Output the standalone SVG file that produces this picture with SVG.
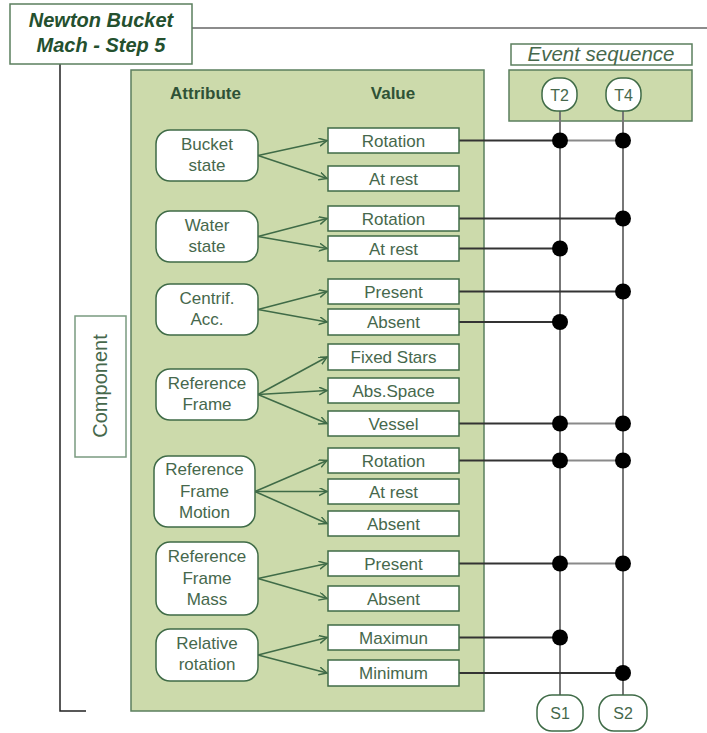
<svg xmlns="http://www.w3.org/2000/svg" width="707" height="733" viewBox="0 0 707 733">
<defs>
<style>
.txt{font-family:"Liberation Sans",Arial,sans-serif;fill:#46684c;text-anchor:middle}
.node{font-size:17px}
.hdr{font-size:17px;font-weight:bold;fill:#2f5236}
.title{font-size:20px;font-weight:bold;font-style:italic;fill:#24502e}
.small{font-size:16px}
.attr{fill:#fff;stroke:#3f6b47;stroke-width:1.5}
.val{fill:#fff;stroke:#3f6b47;stroke-width:1.5}
.arrow{stroke:#3f6b47;stroke-width:1.5;fill:none;marker-end:url(#ah)}
.h1{stroke:#333;stroke-width:2}
.h2{stroke:#8a8a8a;stroke-width:2}
.vert{stroke:#777;stroke-width:2}
.dot{fill:#000}
</style>
<marker id="ah" markerWidth="10" markerHeight="10" refX="8" refY="4" orient="auto" markerUnits="userSpaceOnUse">
<path d="M0,0 L8,4 L0,8" fill="none" stroke="#3f6b47" stroke-width="1.5"/>
</marker>
</defs>
<rect width="707" height="733" fill="#fff"/>

<g id="frame">
<line x1="192" y1="28" x2="707" y2="28" stroke="#666" stroke-width="1.5"/>
<polyline points="60,64 60,711 86,711" fill="none" stroke="#222" stroke-width="1.5"/>
</g>

<g id="title">
<rect x="10" y="4" width="182" height="60" fill="#fff" stroke="#5b7f5e" stroke-width="1.5"/>
<text class="txt title" x="101" y="27">Newton Bucket</text>
<text class="txt title" x="101" y="52">Mach - Step 5</text>
</g>

<g id="panel">
<rect x="131" y="70" width="353" height="641" fill="#ccdaab" stroke="#5b7f5e" stroke-width="1.5"/>
<text class="txt hdr" x="205.5" y="99">Attribute</text>
<text class="txt hdr" x="393" y="99">Value</text>
</g>

<g id="component">
<rect x="75" y="316" width="51" height="141" fill="#fff" stroke="#7a9a80" stroke-width="1.5"/>
<text class="txt" style="font-size:20px" transform="translate(107,386) rotate(-90)" x="0" y="0">Component</text>
</g>

<g id="event-sequence">
<rect x="511" y="44" width="181" height="21" fill="#fff" stroke="#5b7f5e" stroke-width="1.5"/>
<text class="txt" style="font-size:20.5px;font-style:italic" x="601" y="61">Event sequence</text>
<rect x="509" y="70" width="183" height="51" fill="#ccdaab" stroke="#5b7f5e" stroke-width="1.5"/>
</g>

<g id="connectors">
<line class="arrow" x1="258" y1="155.5" x2="327" y2="140.5"/>
<line class="arrow" x1="258" y1="155.5" x2="327" y2="178.5"/>
<line class="arrow" x1="258" y1="236.5" x2="327" y2="218.5"/>
<line class="arrow" x1="258" y1="236.5" x2="327" y2="248.5"/>
<line class="arrow" x1="258" y1="309.5" x2="327" y2="291.5"/>
<line class="arrow" x1="258" y1="309.5" x2="327" y2="322"/>
<line class="arrow" x1="258" y1="394.5" x2="327" y2="357"/>
<line class="arrow" x1="258" y1="394.5" x2="327" y2="390.5"/>
<line class="arrow" x1="258" y1="394.5" x2="327" y2="423.5"/>
<line class="arrow" x1="255" y1="491.5" x2="327" y2="460.5"/>
<line class="arrow" x1="255" y1="491.5" x2="327" y2="491.5"/>
<line class="arrow" x1="255" y1="491.5" x2="327" y2="523.5"/>
<line class="arrow" x1="258" y1="578.5" x2="327" y2="563.5"/>
<line class="arrow" x1="258" y1="578.5" x2="327" y2="598.5"/>
<line class="arrow" x1="258" y1="655" x2="327" y2="637.5"/>
<line class="arrow" x1="258" y1="655" x2="327" y2="673"/>

<line class="vert" x1="560" y1="111" x2="560" y2="695"/>
<line class="vert" x1="623" y1="111" x2="623" y2="695"/>

<line class="h1" x1="459" y1="140.5" x2="560" y2="140.5"/><line class="h2" x1="560" y1="140.5" x2="623" y2="140.5"/>
<line class="h1" x1="459" y1="218.5" x2="623" y2="218.5"/>
<line class="h1" x1="459" y1="248.5" x2="560" y2="248.5"/>
<line class="h1" x1="459" y1="291.5" x2="623" y2="291.5"/>
<line class="h1" x1="459" y1="322" x2="560" y2="322"/>
<line class="h1" x1="459" y1="423.5" x2="560" y2="423.5"/><line class="h2" x1="560" y1="423.5" x2="623" y2="423.5"/>
<line class="h1" x1="459" y1="460.5" x2="560" y2="460.5"/><line class="h2" x1="560" y1="460.5" x2="623" y2="460.5"/>
<line class="h1" x1="459" y1="563.5" x2="560" y2="563.5"/><line class="h2" x1="560" y1="563.5" x2="623" y2="563.5"/>
<line class="h1" x1="459" y1="637.5" x2="560" y2="637.5"/>
<line class="h1" x1="459" y1="673" x2="623" y2="673"/>

<circle class="dot" cx="560" cy="140.5" r="8"/><circle class="dot" cx="623" cy="140.5" r="8"/>
<circle class="dot" cx="623" cy="218.5" r="8"/>
<circle class="dot" cx="560" cy="248.5" r="8"/>
<circle class="dot" cx="623" cy="291.5" r="8"/>
<circle class="dot" cx="560" cy="322" r="8"/>
<circle class="dot" cx="560" cy="423.5" r="8"/><circle class="dot" cx="623" cy="423.5" r="8"/>
<circle class="dot" cx="560" cy="460.5" r="8"/><circle class="dot" cx="623" cy="460.5" r="8"/>
<circle class="dot" cx="560" cy="563.5" r="8"/><circle class="dot" cx="623" cy="563.5" r="8"/>
<circle class="dot" cx="560" cy="637.5" r="8"/>
<circle class="dot" cx="623" cy="673" r="8"/>
</g>

<g id="T2"><rect class="attr" x="542" y="78" width="35" height="33" rx="15"/><text class="txt small" x="559.5" y="100.5">T2</text></g>
<g id="T4"><rect class="attr" x="606" y="78" width="35" height="33" rx="15"/><text class="txt small" x="623.5" y="100.5">T4</text></g>
<g id="S1"><rect class="attr" x="537" y="695" width="46" height="36" rx="15"/><text class="txt small" x="560" y="719">S1</text></g>
<g id="S2"><rect class="attr" x="599" y="695" width="48" height="36" rx="15"/><text class="txt small" x="623" y="719">S2</text></g>

<g id="bucket-state"><rect class="attr" x="156" y="130" width="102" height="51" rx="14"/><text class="txt node" x="207" y="149.5">Bucket</text><text class="txt node" x="207" y="170.5">state</text></g>
<g id="water-state"><rect class="attr" x="156" y="211" width="102" height="51" rx="14"/><text class="txt node" x="207" y="230.5">Water</text><text class="txt node" x="207" y="251.5">state</text></g>
<g id="centrif-acc"><rect class="attr" x="156" y="284" width="102" height="51" rx="14"/><text class="txt node" x="207" y="303.5">Centrif.</text><text class="txt node" x="207" y="324.5">Acc.</text></g>
<g id="reference-frame"><rect class="attr" x="156" y="369" width="102" height="51" rx="14"/><text class="txt node" x="207" y="388.5">Reference</text><text class="txt node" x="207" y="409.5">Frame</text></g>
<g id="reference-frame-motion"><rect class="attr" x="154" y="456" width="101" height="71" rx="14"/><text class="txt node" x="204.5" y="475">Reference</text><text class="txt node" x="204.5" y="497">Frame</text><text class="txt node" x="204.5" y="518">Motion</text></g>
<g id="reference-frame-mass"><rect class="attr" x="156" y="542" width="102" height="73" rx="14"/><text class="txt node" x="207" y="562">Reference</text><text class="txt node" x="207" y="584">Frame</text><text class="txt node" x="207" y="605">Mass</text></g>
<g id="relative-rotation"><rect class="attr" x="156" y="629" width="102" height="52" rx="14"/><text class="txt node" x="207" y="649">Relative</text><text class="txt node" x="207" y="670">rotation</text></g>

<g id="v-bucket-rotation"><rect class="val" x="328" y="128" width="131" height="25"/><text class="txt node" x="393.5" y="146.5">Rotation</text></g>
<g id="v-bucket-atrest"><rect class="val" x="328" y="166" width="131" height="25"/><text class="txt node" x="393.5" y="184.5">At rest</text></g>
<g id="v-water-rotation"><rect class="val" x="328" y="206" width="131" height="25"/><text class="txt node" x="393.5" y="224.5">Rotation</text></g>
<g id="v-water-atrest"><rect class="val" x="328" y="236" width="131" height="25"/><text class="txt node" x="393.5" y="254.5">At rest</text></g>
<g id="v-centrif-present"><rect class="val" x="328" y="279" width="131" height="25"/><text class="txt node" x="393.5" y="297.5">Present</text></g>
<g id="v-centrif-absent"><rect class="val" x="328" y="309" width="131" height="26"/><text class="txt node" x="393.5" y="328">Absent</text></g>
<g id="v-frame-fixedstars"><rect class="val" x="328" y="344" width="131" height="26"/><text class="txt node" x="393.5" y="363">Fixed Stars</text></g>
<g id="v-frame-absspace"><rect class="val" x="328" y="378" width="131" height="25"/><text class="txt node" x="393.5" y="396.5">Abs.Space</text></g>
<g id="v-frame-vessel"><rect class="val" x="328" y="411" width="131" height="25"/><text class="txt node" x="393.5" y="429.5">Vessel</text></g>
<g id="v-motion-rotation"><rect class="val" x="328" y="448" width="131" height="25"/><text class="txt node" x="393.5" y="466.5">Rotation</text></g>
<g id="v-motion-atrest"><rect class="val" x="328" y="479" width="131" height="25"/><text class="txt node" x="393.5" y="497.5">At rest</text></g>
<g id="v-motion-absent"><rect class="val" x="328" y="511" width="131" height="25"/><text class="txt node" x="393.5" y="529.5">Absent</text></g>
<g id="v-mass-present"><rect class="val" x="328" y="551" width="131" height="25"/><text class="txt node" x="393.5" y="569.5">Present</text></g>
<g id="v-mass-absent"><rect class="val" x="328" y="586" width="131" height="25"/><text class="txt node" x="393.5" y="604.5">Absent</text></g>
<g id="v-rel-maximun"><rect class="val" x="328" y="625" width="131" height="25"/><text class="txt node" x="393.5" y="643.5">Maximun</text></g>
<g id="v-rel-minimum"><rect class="val" x="328" y="660" width="131" height="26"/><text class="txt node" x="393.5" y="679">Minimum</text></g>
</svg>
